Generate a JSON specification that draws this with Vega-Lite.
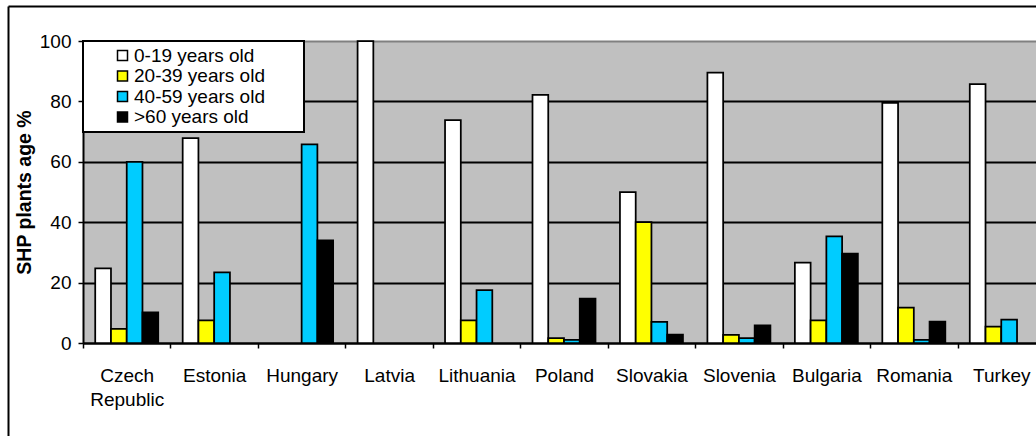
{
  "$schema": "https://vega.github.io/schema/vega-lite/v6.json",
  "width": 953,
  "height": 302,
  "autosize": "none",
  "padding": {"left": 83, "top": 41, "right": 0, "bottom": 93},
  "background": "#FFFFFF",
  "config": {
    "font": "Liberation Sans",
    "view": {"fill": "#C0C0C0", "stroke": null}
  },
  "data": {
    "values": [
      {"country": "Czech Republic", "age": "0-19 years old", "share": 24.7},
      {"country": "Czech Republic", "age": "20-39 years old", "share": 4.7},
      {"country": "Czech Republic", "age": "40-59 years old", "share": 60},
      {"country": "Czech Republic", "age": ">60 years old", "share": 10.1},
      {"country": "Estonia", "age": "0-19 years old", "share": 67.8},
      {"country": "Estonia", "age": "20-39 years old", "share": 7.5},
      {"country": "Estonia", "age": "40-59 years old", "share": 23.4},
      {"country": "Hungary", "age": "40-59 years old", "share": 65.8},
      {"country": "Hungary", "age": ">60 years old", "share": 34},
      {"country": "Latvia", "age": "0-19 years old", "share": 100},
      {"country": "Lithuania", "age": "0-19 years old", "share": 73.8},
      {"country": "Lithuania", "age": "20-39 years old", "share": 7.5},
      {"country": "Lithuania", "age": "40-59 years old", "share": 17.5},
      {"country": "Poland", "age": "0-19 years old", "share": 82.2},
      {"country": "Poland", "age": "20-39 years old", "share": 1.6},
      {"country": "Poland", "age": "40-59 years old", "share": 1.0},
      {"country": "Poland", "age": ">60 years old", "share": 14.7},
      {"country": "Slovakia", "age": "0-19 years old", "share": 50},
      {"country": "Slovakia", "age": "20-39 years old", "share": 40},
      {"country": "Slovakia", "age": "40-59 years old", "share": 7},
      {"country": "Slovakia", "age": ">60 years old", "share": 2.8},
      {"country": "Slovenia", "age": "0-19 years old", "share": 89.5},
      {"country": "Slovenia", "age": "20-39 years old", "share": 2.7},
      {"country": "Slovenia", "age": "40-59 years old", "share": 1.6},
      {"country": "Slovenia", "age": ">60 years old", "share": 5.8},
      {"country": "Bulgaria", "age": "0-19 years old", "share": 26.6},
      {"country": "Bulgaria", "age": "20-39 years old", "share": 7.5},
      {"country": "Bulgaria", "age": "40-59 years old", "share": 35.3},
      {"country": "Bulgaria", "age": ">60 years old", "share": 29.6},
      {"country": "Romania", "age": "0-19 years old", "share": 79.5},
      {"country": "Romania", "age": "20-39 years old", "share": 11.7},
      {"country": "Romania", "age": "40-59 years old", "share": 1.0},
      {"country": "Romania", "age": ">60 years old", "share": 7.1},
      {"country": "Turkey", "age": "0-19 years old", "share": 85.7},
      {"country": "Turkey", "age": "20-39 years old", "share": 5.4},
      {"country": "Turkey", "age": "40-59 years old", "share": 7.7}
    ]
  },
  "layer": [
    {
      "mark": {"type": "bar", "stroke": "#000000", "strokeWidth": 1.75},
      "encoding": {
        "x": {
          "field": "country",
          "type": "nominal",
          "sort": ["Czech Republic", "Estonia", "Hungary", "Latvia", "Lithuania", "Poland", "Slovakia", "Slovenia", "Bulgaria", "Romania", "Turkey"],
          "scale": {"range": [0, 962], "paddingInner": 0, "paddingOuter": 0},
          "axis": {
            "title": null,
            "labelAngle": 0,
            "labelFontSize": 19,
            "labelColor": "#000000",
            "labelPadding": 18,
            "labelLineHeight": 24,
            "labelLimit": 0,
            "labelExpr": "datum.label == 'Czech Republic' ? ['Czech', 'Republic'] : datum.label",
            "tickBand": "extent",
            "tickSize": 5,
            "tickColor": "#000000",
            "tickWidth": 1.5,
            "domainColor": "#000000",
            "domainWidth": 2,
            "grid": false
          }
        },
        "xOffset": {
          "field": "age",
          "type": "nominal",
          "sort": ["0-19 years old", "20-39 years old", "40-59 years old", ">60 years old"],
          "scale": {"paddingInner": 0, "paddingOuter": 0.776}
        },
        "y": {
          "field": "share",
          "type": "quantitative",
          "scale": {"domain": [0, 100], "nice": false},
          "axis": {
            "values": [0, 20, 40, 60, 80, 100],
            "title": "SHP plants age %",
            "titleFontSize": 19.5,
            "titleFontWeight": "bold",
            "titleColor": "#000000",
            "titlePadding": 5,
            "labelFontSize": 19,
            "labelColor": "#000000",
            "labelPadding": 7,
            "tickSize": 5,
            "tickColor": "#000000",
            "tickWidth": 1.5,
            "domainColor": "#000000",
            "domainWidth": 2,
            "grid": true,
            "gridWidth": 2,
            "gridColor": {"condition": {"test": "datum.value === 100", "value": "#808080"}, "value": "#000000"}
          }
        },
        "color": {
          "field": "age",
          "type": "nominal",
          "sort": ["0-19 years old", "20-39 years old", "40-59 years old", ">60 years old"],
          "scale": {
            "domain": ["0-19 years old", "20-39 years old", "40-59 years old", ">60 years old"],
            "range": ["#FFFFFF", "#FFFF00", "#00CCFF", "#000000"]
          },
          "legend": {
            "title": " ",
            "titleOrient": "right",
            "titlePadding": 34,
            "titleFontSize": 1,
            "orient": "none",
            "legendX": 0,
            "legendY": 0,
            "fillColor": "#FFFFFF",
            "strokeColor": "#000000",
            "padding": 5,
            "symbolType": "square",
            "symbolSize": 100,
            "symbolStrokeColor": "#000000",
            "symbolStrokeWidth": 1.5,
            "symbolOffset": 25,
            "labelOffset": 2,
            "labelFontSize": 19,
            "labelColor": "#000000",
            "rowPadding": 0.5,
            "encode": {
              "legend": {"update": {"strokeWidth": {"value": 2}}}
            }
          }
        }
      }
    },
    {
      "mark": {"type": "point", "opacity": 0},
      "encoding": {
        "x": {
          "field": "share",
          "type": "quantitative",
          "scale": {"domain": [0, 100], "range": [-75, 1000], "nice": false, "zero": false},
          "axis": {"orient": "top", "offset": 35, "title": null, "labels": false, "ticks": false, "grid": false, "domainColor": "#000000", "domainWidth": 2}
        },
        "y": {
          "field": "share",
          "type": "quantitative",
          "scale": {"domain": [0, 100], "range": [395, -35], "nice": false, "zero": false},
          "axis": {"orient": "left", "offset": 75, "title": null, "labels": false, "ticks": false, "grid": false, "domainColor": "#000000", "domainWidth": 2}
        }
      }
    }
  ],
  "resolve": {"scale": {"x": "independent", "y": "independent"}, "axis": {"x": "independent", "y": "independent"}}
}
